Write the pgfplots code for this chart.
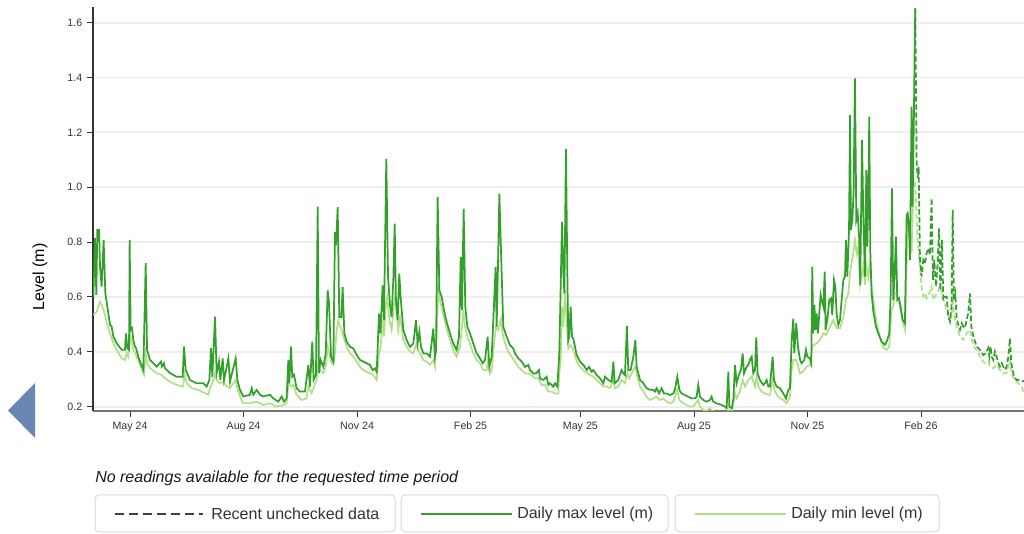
\documentclass[border=0pt]{standalone}
\usepackage{fontspec}
\setmainfont{Liberation Sans}
\usepackage{pgfplots}
\pgfplotsset{compat=1.18}
\usepackage{pgfplotstable}
\definecolor{maxg}{HTML}{33A02C}
\definecolor{ming}{HTML}{B2DF8A}
\definecolor{gridc}{HTML}{EEEEEE}
\definecolor{navb}{HTML}{6A86B2}
\definecolor{boxc}{HTML}{DADADA}
\definecolor{txt}{HTML}{333333}

% x = days since 1 May 2024, y = level (m)
\pgfplotstableread{
x y
-29.7 0.600
-28.4 0.814
-27.3 0.607
-26.5 0.844
-25.1 0.844
-24.3 0.710
-23.0 0.638
-21.4 0.808
-20.0 0.613
-18.4 0.565
-16.2 0.498
-14.9 0.492
-13.5 0.455
-10.8 0.431
-6.8 0.407
-4.1 0.407
-3.3 0.467
-2.2 0.413
-0.8 0.407
-0.3 0.808
0.5 0.480
1.6 0.486
2.7 0.443
4.0 0.419
4.9 0.413
6.7 0.382
10.8 0.334
12.7 0.723
13.8 0.407
16.2 0.370
21.6 0.346
25.1 0.364
25.9 0.346
27.5 0.358
28.3 0.340
32.4 0.322
37.8 0.309
42.7 0.309
43.7 0.419
45.1 0.334
48.6 0.297
54.0 0.285
59.4 0.285
62.1 0.273
64.3 0.297
65.6 0.413
66.7 0.309
68.9 0.528
70.2 0.322
72.1 0.364
73.2 0.297
75.1 0.376
76.2 0.297
79.7 0.376
81.0 0.291
85.6 0.376
87.0 0.297
89.1 0.261
91.8 0.237
97.2 0.243
98.6 0.267
99.9 0.243
102.6 0.261
105.3 0.243
108.0 0.237
113.4 0.243
116.1 0.230
120.2 0.218
122.9 0.237
124.8 0.218
126.9 0.230
128.3 0.370
129.1 0.285
130.5 0.419
131.5 0.309
132.9 0.316
135.0 0.267
137.7 0.255
141.8 0.255
144.5 0.352
145.8 0.273
147.7 0.437
148.8 0.297
150.7 0.316
152.1 0.929
153.1 0.322
154.5 0.370
156.7 0.345
158.6 0.394
160.2 0.624
161.3 0.576
162.9 0.382
164.8 0.364
166.1 0.836
166.9 0.788
168.3 0.927
169.6 0.527
171.3 0.527
172.3 0.636
173.7 0.467
175.6 0.436
178.3 0.418
181.0 0.412
183.7 0.388
186.4 0.370
189.1 0.364
191.8 0.358
194.5 0.352
196.6 0.333
198.5 0.339
199.9 0.327
201.8 0.539
202.9 0.467
204.7 0.642
205.8 0.515
207.7 1.103
209.1 0.673
210.7 0.570
212.0 0.527
213.4 0.667
214.5 0.867
215.5 0.588
216.9 0.515
218.2 0.685
219.3 0.600
221.5 0.479
224.2 0.442
226.9 0.418
229.6 0.430
231.8 0.515
233.1 0.430
234.5 0.473
235.8 0.418
237.7 0.394
240.4 0.394
243.1 0.382
245.8 0.485
247.1 0.382
248.0 0.406
249.3 0.964
250.7 0.624
252.6 0.600
254.4 0.552
256.6 0.509
259.3 0.467
262.0 0.430
264.7 0.406
266.6 0.455
268.0 0.745
269.0 0.552
270.4 0.921
271.7 0.564
273.4 0.491
275.5 0.467
278.2 0.430
280.9 0.394
283.6 0.376
285.8 0.358
287.7 0.370
289.8 0.455
291.2 0.345
293.1 0.382
295.0 0.576
296.3 0.709
297.1 0.491
298.2 0.709
299.3 0.976
301.2 0.685
302.5 0.491
305.2 0.455
307.9 0.424
310.6 0.412
312.0 0.394
314.7 0.376
317.4 0.364
320.1 0.345
322.8 0.352
324.1 0.333
326.8 0.321
329.0 0.321
331.4 0.333
332.2 0.303
334.9 0.297
337.6 0.309
339.0 0.279
340.3 0.285
343.0 0.273
344.4 0.285
346.3 0.273
347.9 0.394
350.1 0.873
351.2 0.685
352.0 0.612
353.3 1.139
354.4 0.685
355.2 0.442
356.0 0.455
357.1 0.564
358.2 0.455
359.3 0.448
360.6 0.418
362.0 0.388
364.7 0.364
367.4 0.352
370.1 0.333
372.0 0.345
374.1 0.327
375.5 0.333
378.2 0.315
380.9 0.303
383.6 0.285
384.9 0.309
387.6 0.297
390.3 0.291
391.7 0.364
392.8 0.285
395.7 0.297
398.4 0.333
399.8 0.321
401.1 0.315
402.7 0.493
403.8 0.333
405.7 0.333
407.9 0.382
409.5 0.442
410.6 0.345
413.3 0.297
416.0 0.285
418.7 0.267
421.4 0.261
424.1 0.261
425.4 0.255
426.8 0.267
428.7 0.248
430.8 0.267
432.7 0.248
434.9 0.248
437.6 0.242
440.3 0.248
441.6 0.261
443.5 0.309
445.2 0.261
447.0 0.248
449.7 0.242
452.4 0.236
455.1 0.230
457.8 0.230
459.2 0.236
460.5 0.279
461.9 0.236
464.6 0.224
467.3 0.218
470.0 0.224
471.3 0.236
472.7 0.218
475.4 0.212
479.5 0.206
482.2 0.200
483.5 0.194
484.9 0.327
485.7 0.200
487.6 0.194
488.9 0.224
490.3 0.352
491.6 0.285
493.8 0.321
495.1 0.333
496.5 0.394
497.6 0.321
499.7 0.345
501.1 0.352
502.4 0.370
503.8 0.382
505.1 0.321
506.5 0.333
507.5 0.452
508.6 0.321
510.5 0.297
513.2 0.279
514.6 0.285
515.9 0.297
517.3 0.273
518.6 0.273
520.8 0.382
521.9 0.297
524.0 0.273
526.7 0.267
529.4 0.248
531.6 0.230
533.5 0.261
534.8 0.267
536.2 0.442
537.5 0.521
538.3 0.394
539.9 0.504
541.4 0.415
543.0 0.370
544.3 0.358
546.5 0.370
547.8 0.407
548.9 0.382
551.0 0.376
552.1 0.358
552.9 0.710
553.7 0.467
554.6 0.571
555.6 0.480
556.4 0.540
557.5 0.467
558.6 0.540
559.7 0.607
560.5 0.589
561.9 0.565
563.0 0.692
563.7 0.480
565.1 0.516
566.7 0.589
568.1 0.595
569.1 0.534
570.5 0.662
571.6 0.638
572.7 0.534
574.0 0.498
575.4 0.516
576.7 0.589
578.1 0.662
579.4 0.674
580.2 0.808
581.3 0.674
582.7 0.844
583.5 1.263
584.3 0.844
585.4 0.881
586.4 0.984
587.5 1.397
588.6 0.881
589.7 0.905
591.0 0.808
591.8 0.644
593.2 1.172
594.3 0.893
595.6 0.674
596.7 1.063
597.5 0.783
598.3 0.954
599.1 1.257
599.9 0.771
601.0 0.613
602.4 0.546
604.5 0.492
606.4 0.467
609.1 0.437
611.8 0.425
613.7 0.443
615.3 0.467
616.4 0.601
617.5 0.996
618.6 0.589
619.7 0.686
620.7 0.820
621.8 0.589
623.2 0.595
624.5 0.565
626.1 0.516
628.0 0.504
629.4 0.899
630.2 0.905
631.3 0.856
632.1 0.735
633.4 1.294
634.2 0.929
635.3 1.269
635.9 1.513
636.4 1.652
}\maxsolid

\pgfplotstableread{
x y
636.4 1.652
637.5 1.087
638.3 1.033
639.1 1.075
640.2 0.735
641.5 0.674
642.9 0.735
644.2 0.723
645.6 0.759
646.9 0.777
648.3 0.753
649.6 0.960
650.7 0.662
651.8 0.735
653.2 0.638
654.5 0.723
655.6 0.850
656.7 0.625
658.0 0.808
659.1 0.589
660.4 0.601
661.8 0.601
663.1 0.528
664.5 0.510
665.8 0.565
666.7 0.917
667.7 0.589
668.8 0.613
669.9 0.522
671.3 0.498
672.6 0.480
674.0 0.504
675.3 0.492
676.6 0.486
678.0 0.516
679.3 0.540
680.7 0.613
681.8 0.492
683.4 0.455
686.1 0.419
688.8 0.407
691.5 0.388
693.7 0.395
695.5 0.413
696.4 0.382
697.4 0.419
698.3 0.382
699.6 0.370
700.9 0.401
702.3 0.382
703.7 0.358
705.0 0.346
706.4 0.358
707.7 0.346
709.1 0.334
710.4 0.346
711.8 0.382
713.1 0.449
714.2 0.358
715.3 0.334
716.4 0.309
718.5 0.297
721.2 0.297
724.5 0.292
}\maxdash

\pgfplotstableread{
x y
-29.7 0.534
-27.0 0.546
-25.7 0.565
-24.3 0.583
-23.0 0.571
-21.6 0.553
-20.0 0.528
-18.4 0.498
-16.2 0.467
-13.5 0.431
-10.8 0.407
-6.8 0.376
-4.1 0.370
-2.7 0.395
-1.4 0.382
0.0 0.467
1.3 0.437
2.7 0.407
5.4 0.382
8.1 0.352
11.3 0.316
12.7 0.395
14.0 0.358
16.2 0.340
21.6 0.322
25.6 0.316
28.3 0.303
32.4 0.291
37.8 0.279
43.2 0.273
44.0 0.322
45.9 0.285
50.0 0.267
55.4 0.261
60.8 0.249
63.5 0.243
64.8 0.267
66.7 0.285
68.9 0.322
70.2 0.297
72.9 0.285
75.6 0.291
78.3 0.273
81.0 0.267
85.6 0.297
87.0 0.267
89.7 0.230
91.8 0.212
97.2 0.212
102.6 0.218
108.0 0.206
113.4 0.212
118.8 0.200
124.2 0.206
126.9 0.212
128.6 0.285
131.0 0.273
132.3 0.279
135.0 0.243
139.1 0.224
143.1 0.230
144.5 0.273
147.2 0.249
149.1 0.273
151.2 0.297
152.6 0.358
154.0 0.334
156.7 0.322
158.6 0.345
160.2 0.418
161.5 0.394
163.4 0.358
164.8 0.352
166.1 0.394
167.5 0.479
168.8 0.515
170.2 0.491
171.5 0.479
172.9 0.455
175.6 0.418
178.3 0.394
181.0 0.382
183.7 0.364
186.4 0.345
189.1 0.333
191.8 0.327
194.5 0.321
197.2 0.315
199.9 0.297
201.8 0.394
203.1 0.418
204.7 0.515
205.8 0.455
207.4 0.576
208.5 0.600
210.2 0.515
212.0 0.479
213.4 0.552
214.7 0.600
216.1 0.539
217.4 0.479
218.8 0.527
220.1 0.491
221.5 0.442
224.2 0.418
226.9 0.400
229.6 0.394
232.3 0.430
233.6 0.406
235.0 0.394
237.7 0.370
240.4 0.364
243.1 0.352
245.8 0.370
247.2 0.345
248.5 0.467
249.9 0.624
251.2 0.588
252.6 0.558
254.4 0.527
256.6 0.485
259.3 0.442
262.0 0.406
264.7 0.382
267.4 0.418
269.0 0.491
270.1 0.552
271.5 0.491
273.4 0.455
275.5 0.430
278.2 0.394
280.9 0.370
283.6 0.358
286.3 0.333
289.0 0.333
290.4 0.382
291.7 0.321
293.1 0.333
295.0 0.430
296.6 0.491
298.5 0.479
300.6 0.521
302.0 0.467
303.9 0.430
306.6 0.400
309.3 0.382
312.0 0.364
314.7 0.345
317.4 0.333
320.1 0.321
322.8 0.321
325.5 0.315
328.2 0.303
330.9 0.303
333.6 0.279
336.3 0.279
339.0 0.255
341.7 0.255
344.4 0.248
347.1 0.248
347.9 0.321
349.0 0.370
350.1 0.564
351.2 0.491
352.5 0.624
353.9 0.503
355.2 0.412
356.6 0.424
357.9 0.418
359.3 0.406
362.0 0.364
364.7 0.345
367.4 0.333
370.1 0.321
372.8 0.315
375.5 0.309
378.2 0.297
380.9 0.285
383.6 0.273
386.3 0.273
389.0 0.267
391.7 0.297
393.0 0.267
395.7 0.273
398.4 0.297
401.1 0.285
403.0 0.321
404.6 0.303
407.9 0.333
409.5 0.345
411.1 0.309
413.3 0.273
416.0 0.255
418.7 0.236
421.4 0.224
424.1 0.230
426.8 0.236
429.5 0.224
432.2 0.230
434.9 0.218
437.6 0.212
440.3 0.218
443.5 0.261
445.2 0.224
448.4 0.212
451.1 0.206
453.8 0.200
456.5 0.200
460.5 0.224
461.9 0.200
464.6 0.188
467.3 0.185
470.0 0.194
472.7 0.182
478.1 0.176
482.2 0.170
484.9 0.188
486.2 0.176
487.6 0.176
490.3 0.248
491.6 0.230
494.3 0.255
496.5 0.297
498.4 0.273
501.1 0.297
503.8 0.309
506.5 0.273
507.8 0.309
509.2 0.273
511.9 0.255
514.6 0.248
518.6 0.242
520.8 0.297
522.7 0.255
525.4 0.236
529.4 0.224
532.1 0.212
534.8 0.236
536.2 0.333
537.5 0.370
539.7 0.370
541.6 0.345
542.9 0.321
545.6 0.328
548.3 0.346
551.1 0.352
552.9 0.419
554.3 0.425
556.5 0.431
559.2 0.443
561.9 0.467
564.0 0.461
567.3 0.492
570.0 0.516
572.7 0.486
575.4 0.486
578.1 0.528
580.2 0.589
582.1 0.613
583.5 0.686
584.8 0.723
586.2 0.759
587.5 0.808
588.9 0.759
590.2 0.783
591.6 0.644
592.9 0.674
594.3 0.710
595.6 0.644
596.9 0.710
598.3 0.674
599.7 0.735
601.0 0.638
602.4 0.589
605.1 0.504
607.8 0.455
610.5 0.413
613.2 0.407
615.3 0.419
617.2 0.553
618.6 0.565
619.9 0.613
621.3 0.613
624.0 0.565
626.7 0.504
628.0 0.480
629.4 0.735
630.7 0.881
632.1 0.832
633.4 0.759
634.8 1.000
635.9 1.020
}\minsolid

\pgfplotstableread{
x y
635.9 1.020
637.0 0.954
638.0 0.832
639.6 0.735
641.5 0.638
642.9 0.601
644.2 0.613
645.6 0.595
647.7 0.613
649.6 0.638
651.0 0.589
652.3 0.601
653.7 0.613
655.0 0.625
656.4 0.638
657.7 0.613
659.1 0.589
661.8 0.553
664.5 0.516
665.8 0.528
666.7 0.625
667.7 0.540
669.9 0.492
672.6 0.455
675.3 0.443
678.0 0.467
680.7 0.480
682.1 0.443
684.8 0.413
687.5 0.395
690.2 0.370
692.9 0.358
695.6 0.364
696.9 0.346
699.6 0.340
702.3 0.352
705.0 0.334
707.7 0.322
710.4 0.322
713.1 0.370
714.5 0.316
717.2 0.297
719.9 0.285
722.6 0.273
724.5 0.249
}\mindash

\begin{document}
\begin{tikzpicture}
\path[use as bounding box] (0,0) rectangle (768pt,400.5pt);
\begin{axis}[
  at={(69.75pt,92.25pt)}, anchor=south west,
  scale only axis, width=698.25pt, height=303pt,
  xmin=-30, xmax=724.5, ymin=0.184, ymax=1.657,
  axis x line*=bottom, axis y line*=left,
  x axis line style={-, line width=1.4pt, color=black!55},
  y axis line style={-, line width=0.8pt, color=black!80},
  xtick={0,92,184,276,365,457,549,641},
  xticklabels={May 24,Aug 24,Nov 24,Feb 25,May 25,Aug 25,Nov 25,Feb 26},
  ytick={0.2,0.4,0.6,0.8,1.0,1.2,1.4,1.6},
  yticklabel style={/pgf/number format/.cd, fixed, fixed zerofill, precision=1},
  /pgf/number format/assume math mode=true,
  tick label style={font=\fontsize{8}{9}\selectfont, color=txt},
  tick align=outside, major tick length=4.5pt,
  tick style={color=black!80, line width=0.6pt},
  ymajorgrids, major grid style={gridc, line width=1.4pt},
  ylabel={Level (m)},
  ylabel style={font=\fontsize{12}{14}\selectfont, color=black, at={(axis description cs:-0.057,0.332)}, anchor=center},
]
\addplot[ming, line width=1.3pt] table[x=x,y=y] {\minsolid};
\addplot[ming, line width=1.3pt, dash pattern=on 4pt off 2pt] table[x=x,y=y] {\mindash};
\addplot[maxg, line width=1.3pt] table[x=x,y=y] {\maxsolid};
\addplot[maxg, line width=1.3pt, dash pattern=on 4pt off 2pt] table[x=x,y=y] {\maxdash};
\end{axis}
\begin{scope}[x=0.75pt,y=-0.75pt,yshift=400.5pt]
\fill[navb] (35,383) -- (35,438) -- (8,410.5) -- cycle;
\node[anchor=west, inner sep=0pt, font=\fontsize{12}{14}\selectfont\itshape, text=black!90] at (95,478) {No readings available for the requested time period};
\draw[boxc, line width=0.75pt, rounded corners=3pt] (95,495) rectangle (395,532);
\draw[boxc, line width=0.75pt, rounded corners=3pt] (401,495) rectangle (668,532);
\draw[boxc, line width=0.75pt, rounded corners=3pt] (675,495) rectangle (939,532);
\draw[black!75, line width=1.1pt, dash pattern=on 7pt off 3.5pt] (115,514) -- (203,514);
\node[anchor=west, inner sep=0pt, font=\fontsize{12}{14}\selectfont, text=txt] at (211,514) {Recent unchecked data};
\draw[maxg, line width=2pt] (421,514) -- (512,514);
\node[anchor=west, inner sep=0pt, font=\fontsize{12}{14}\selectfont, text=txt] at (517,514) {Daily max level (m)};
\draw[ming, line width=2pt] (695,514) -- (786,514);
\node[anchor=west, inner sep=0pt, font=\fontsize{12}{14}\selectfont, text=txt] at (791,514) {Daily min level (m)};
\end{scope}
\end{tikzpicture}
\end{document}
